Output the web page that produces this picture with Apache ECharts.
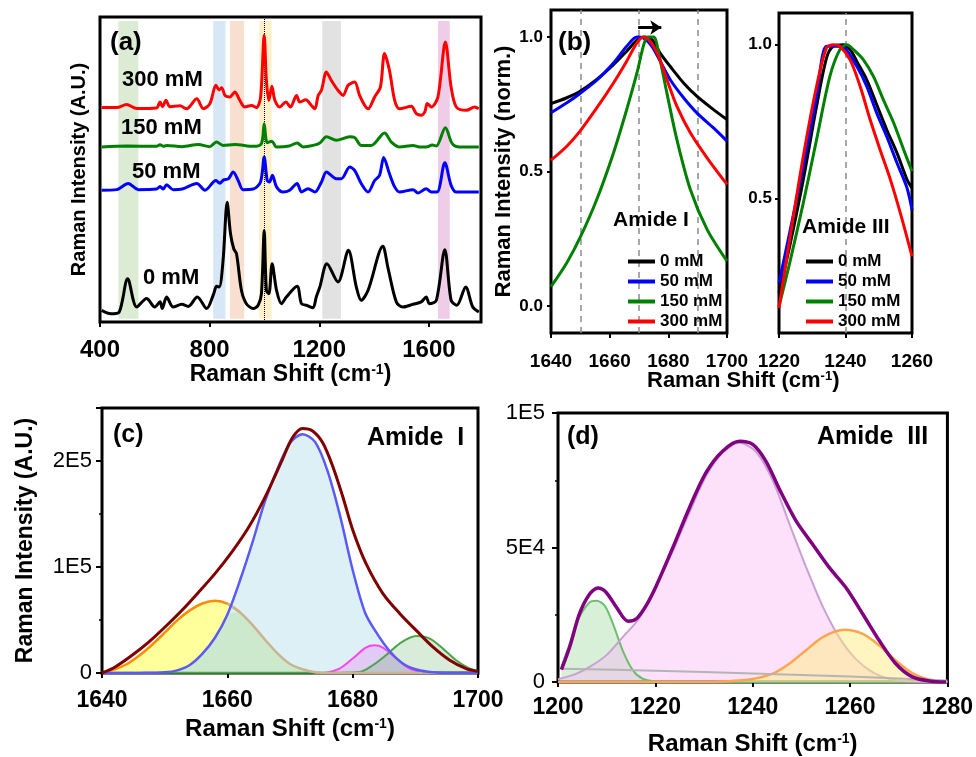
<!DOCTYPE html>
<html lang="en">
<head>
<meta charset="UTF-8">
<title>Raman</title>
<script src="https://cdn.jsdelivr.net/npm/echarts@6/dist/echarts.min.js"></script>
<style>
    html, body { margin: 0; padding: 0; background: #fff; }
</style>
</head>
<body>

<div id="chart" style="width: 976px;height: 757px"></div>

<script>
    // ---------- (a) full spectra, stacked with offsets (arbitrary units) ----------
    var spec0 = [[406,3.8],[440,2.7],[470,3.3],[501,14.2],[534,4.9],[570,7.7],[600,4.9],[619,6.6],[627,4.4],[643,8.2],
        [667,4.9],[698,5.8],[722,5.1],[755,8.2],[789,4.4],[815,9.3],[825,11.7],[835,11.5],[849,20.2],[864,39.3],[876,29],
        [888,24],[898,22.4],[916,10.4],[934,6],[959,4.4],[977,5.5],[989,9.3],[999,30],[1007,10.4],[1016,9.3],[1028,19.1],
        [1044,10.4],[1062,6],[1080,8.2],[1119,11.7],[1135,6],[1153,5.5],[1177,4.7],[1189,8.2],[1202,11.5],[1228,19.1],
        [1268,13.1],[1306,23.5],[1335,11.5],[1353,7.1],[1378,10.4],[1432,24.8],[1450,18],[1481,6.6],[1505,4.9],[1542,5.8],
        [1572,6.6],[1590,8.2],[1602,6],[1627,7.1],[1658,23.7],[1681,7.1],[1702,5.5],[1734,11.5],[1760,4.9],[1782,3.3]];
    var spec50 = [[406,43.2],[461,43.4],[503,45.4],[540,43.4],[606,43.6],[619,44.4],[631,43.6],[643,45],[667,43.4],[700,43.6],
        [753,45.4],[783,43.2],[823,46.4],[837,45.5],[851,46.6],[868,46.9],[886,49.2],[904,46.4],[922,43.4],[959,43.6],[986,46],
        [999,54.1],[1010,46.4],[1018,45.9],[1029,48.1],[1044,44.3],[1068,42.6],[1092,43.2],[1119,45.4],[1135,42.6],[1159,43.7],
        [1184,42.6],[1208,45.9],[1226,49.2],[1262,47],[1281,47],[1311,50.8],[1329,49.7],[1353,45.4],[1378,42.6],[1402,46.4],
        [1420,48.1],[1435,53.9],[1456,48.6],[1475,44.3],[1493,42.6],[1542,43.4],[1560,42.3],[1590,43.7],[1609,42.6],[1630,42.6],
        [1658,52.2],[1681,44.8],[1700,42.6],[1782,42.6]];
    var spec150 = [[406,57.4],[497,57.7],[606,57.6],[619,58.1],[632,57.6],[643,57.9],[700,57.5],[759,58.2],[800,57.5],[825,59],
        [849,57.9],[892,58.2],[960,57.6],[989,58.5],[999,65],[1010,58.8],[1027,59.3],[1044,57.4],[1090,57.7],[1119,58.7],
        [1141,57.4],[1177,57.9],[1202,58.7],[1226,60.7],[1262,59.6],[1311,60.7],[1329,60.5],[1353,57.9],[1390,57.9],[1438,62],
        [1463,59],[1493,57.4],[1542,57.9],[1565,57.4],[1590,57.4],[1612,58],[1627,57.7],[1660,63.7],[1685,58.5],[1712,57.4],[1782,57.4]];
    var spec300 = [[406,70.3],[461,70.3],[497,71.3],[534,70],[606,70.2],[619,72.1],[628,70.6],[641,72.7],[655,70.6],[692,70.9],
        [716,69.9],[753,73.2],[777,69.9],[801,71.6],[823,77.6],[834,76.1],[844,76.8],[856,74.3],[874,73.8],[892,75.4],[910,72.7],
        [928,70.5],[953,71],[971,70.3],[986,73.8],[999,94],[1007,79.2],[1016,72.7],[1027,77.3],[1038,72.7],[1056,70.5],[1078,72.1],
        [1095,70.5],[1117,74.3],[1129,72.1],[1151,72.9],[1171,71],[1184,69.9],[1196,74.3],[1208,76],[1226,82],[1244,79.2],
        [1268,76],[1287,74.3],[1305,77.6],[1329,78.7],[1347,74.3],[1366,71],[1378,69.9],[1402,73.8],[1423,77],[1438,88],
        [1456,82.5],[1475,72.7],[1493,69.9],[1536,70.7],[1554,68.3],[1572,67.8],[1585,68.9],[1594,71.6],[1609,70.5],[1633,73.8],
        [1660,91.8],[1681,77],[1700,70.5],[1737,69.4],[1767,70.5],[1782,69.9]];
    var bands = [[467,540],[813,858],[874,926],[981,1026],[1211,1279],[1633,1676]];
    var bandColors = ['#dcebd4','#d8e7f5','#f9dfd0','#fdf0c8','#e2e2e2','#efcde8'];
    var markerLineA = 999;
    var ticksA = [400, 800, 1200, 1600];

    // ---------- (b) normalised Amide I / Amide III ----------
    var amI0 = [[1640,0.752],[1645.4,0.774],[1649.9,0.798],[1655.6,0.842],[1661.3,0.897],[1665.8,0.947],[1669.3,0.988],
        [1671.8,1.0],[1674.4,0.99],[1677.2,0.94],[1680.6,0.891],[1685.2,0.829],[1689.7,0.78],[1695.4,0.73],[1700,0.693]];
    var amI50 = [[1640,0.718],[1645.4,0.755],[1649.9,0.79],[1655.6,0.839],[1661.3,0.903],[1665.8,0.965],[1669.3,1.0],
        [1671.5,0.996],[1674.4,0.965],[1677.2,0.91],[1680.6,0.842],[1685.2,0.774],[1689.7,0.718],[1695.4,0.662],[1700,0.613]];
    var amI150 = [[1640,0.072],[1645.4,0.161],[1649.9,0.254],[1655.6,0.396],[1661.3,0.569],[1665.8,0.73],[1669.3,0.866],
        [1671.8,0.978],[1673.2,1.0],[1675,1.0],[1676.7,0.94],[1679.5,0.792],[1682.9,0.619],[1687.5,0.433],[1693.2,0.285],[1700,0.167]];
    var amI300 = [[1640,0.542],[1645.4,0.594],[1649.9,0.65],[1655.6,0.736],[1661.3,0.829],[1665.8,0.91],[1669.3,0.978],
        [1671.5,1.0],[1673.8,0.984],[1676.7,0.928],[1679.5,0.842],[1682.9,0.743],[1687.5,0.644],[1693.2,0.551],[1700,0.452]];
    var amIII0 = [[1220,0.194],[1223.2,0.345],[1227.3,0.562],[1231.3,0.8],[1234.3,0.957],[1236.3,0.995],[1239.3,1.0],
        [1241.4,0.984],[1243.4,0.946],[1246.4,0.886],[1249.4,0.805],[1252.4,0.724],[1255.5,0.648],[1258.5,0.562],[1260,0.535]];
    var amIII50 = [[1220,0.226],[1223.2,0.389],[1227.3,0.605],[1231.3,0.832],[1234.3,0.995],[1237.3,0.995],[1239.8,0.989],
        [1243.4,0.93],[1246.4,0.865],[1249.4,0.778],[1252.4,0.702],[1255.5,0.616],[1258.5,0.535],[1260,0.464]];
    var amIII150 = [[1220,0.15],[1223.2,0.291],[1227.3,0.486],[1231.3,0.692],[1235.3,0.897],[1238.3,0.984],[1240.4,1.0],
        [1242.4,0.984],[1245.4,0.951],[1248.4,0.897],[1251.4,0.821],[1254.5,0.746],[1257.5,0.659],[1260,0.589]];
    var amIII300 = [[1220,0.145],[1223.2,0.367],[1227.3,0.637],[1231.3,0.865],[1234.3,0.99],[1236.3,1.0],[1238.3,0.995],
        [1241.4,0.951],[1244.4,0.865],[1247.4,0.757],[1250.4,0.659],[1253.5,0.562],[1256.5,0.453],[1260,0.313]];
    var concNames = ['0 mM', '50 mM', '150 mM', '300 mM'];
    var refLinesI = [1650, 1670, 1690];
    var refLinesIII = [1240];

    // ---------- (c) Amide I peak fit (intensity in thousands) ----------
    var cFit = [[1640,0],[1642.1,5.7],[1644.8,16.7],[1647.5,29.4],[1650.1,43.6],[1652.8,59.4],[1655.5,76.8],[1658.1,94.2],
        [1660.8,114.7],[1663.5,138.4],[1666.1,166.8],[1668.8,201.6],[1670.4,222],[1672,230.6],[1673.6,228.4],[1675.2,217.4],
        [1676.8,195.3],[1678.4,166.8],[1680,135.2],[1682.1,103.6],[1684.8,75.2],[1687.5,56.2],[1690.1,40.4],[1692.8,24.6],
        [1695.5,12],[1698.1,4.1],[1700,1.5]];
    var cX = [1640,1642,1644,1646,1648,1650,1652,1654,1656,1658,1660,1662,1664,1666,1668,1670,
        1672,1674,1676,1678,1680,1682,1684,1686,1688,1690,1692,1694,1696,1698,1700];
    var cPeak1658 = [0.3,3.5,8.5,16.7,26.7,38,49.7,59.1,65.6,68.2,65.5,57.3,45.4,31.5,18.6,8.5,
        3.5,0.7,0,0,0,0,0,0,0,0,0,0,0,0,0];
    var cPeak1672 = [0,0,0,0.1,0.3,0.6,2.5,7.5,18,33,55,87,123,162,192.5,217,
        225.3,218,190.5,148,97.3,56.6,36.2,20,8.9,3.5,1.2,0.3,0,0,0];
    var cPeak1684 = [[1674,0],[1675.7,0.3],[1677.9,4.1],[1680,13.6],[1682.1,24],[1683.5,26.2],[1684.8,24],[1687,13.6],
        [1689.1,4.1],[1691.2,0.6],[1693,0]];
    var cPeak1690 = [[1640,0.3],[1678,0.3],[1681.1,0.9],[1683.2,7.3],[1685.3,16.7],[1687.5,27.8],[1690.1,34.8],[1692.3,32.5],
        [1694.4,23],[1696.5,12],[1698.7,4.1],[1700,2]];

    // ---------- (d) Amide III peak fit (intensity in thousands) ----------
    var dFit = [[1200.7,4.6],[1202.4,13],[1204.4,25.3],[1206.5,32.7],[1208.2,34.9],[1209.9,33.3],[1212,27.8],[1214.4,22.6],
        [1216.1,23.5],[1218.1,28.4],[1220.2,35.8],[1223.6,50],[1227,64.8],[1230.4,77.8],[1233.8,85.8],[1237.3,89.5],[1240,88.3],
        [1242.7,82.1],[1245.5,71.6],[1248.9,59.9],[1252.3,51.2],[1255.7,42.6],[1259.1,35.2],[1262.6,25.3],[1266,15.4],
        [1269.4,6.8],[1272.8,1.9],[1276.2,0.4],[1279.7,0]];
    var dPeak1208 = [[1200.7,5.6],[1202.4,14.2],[1204.4,24.1],[1206.5,29.6],[1207.9,30.2],[1209.6,28.4],[1211.3,21.6],
        [1213.3,11.7],[1215.4,4.3],[1217.4,1.2],[1220.2,0.2],[1230,0],[1280,0]];
    var dPeak1237 = [[1200,1],[1203.8,3.1],[1206.5,5.6],[1209.9,9.9],[1213.3,16.7],[1216.8,24],[1220.2,35.8],[1223.6,48.8],
        [1227,63],[1230.4,76.5],[1233.8,85.2],[1237.3,88.9],[1240.7,85.5],[1244.1,75],[1247.5,59],[1250.9,43],[1254.4,28],
        [1257.8,16.5],[1261.2,8.5],[1264.6,3.7],[1268,1.2],[1272.1,0.3],[1280,0]];
    var dPeak1259 = [[1200,0],[1230,0],[1233.8,0.2],[1239.3,0.9],[1244.1,3.1],[1247.5,6.8],[1250.9,11.7],[1254.4,16.7],
        [1258.8,19.4],[1262.6,17.9],[1266,13.6],[1269.4,8],[1272.8,3.3],[1276.2,0.9],[1279.7,0]];
    var dBaseline = [[1200.7,4.9],[1220,4.2],[1240,3.2],[1260,2],[1280,0.6]];

    var FONT = 'Arial, "Liberation Sans", sans-serif';
    var supRich = function (size) {
        return { s: { fontSize: size, fontWeight: 'bold', fontFamily: FONT, color: '#000', verticalAlign: 'top' } };
    };
    var sci = function (vk) {
        var v = vk * 1000;
        if (!v) return '0';
        var e = Math.floor(Math.log10(v) + 1e-9);
        return Math.round(v / Math.pow(10, e)) + 'E' + e;
    };
    var plain = function (v) { return String(v); };

    function box(l, t, w, h) {
        return { left: l, top: t, width: w, height: h, show: true, borderColor: '#000', borderWidth: 3 };
    }
    function xAx(g, min, max, opt) {
        var a = {
            gridIndex: g, type: 'value', min: min, max: max, interval: opt.interval,
            axisLine: { show: false, onZero: false }, splitLine: { show: false },
            axisTick: { show: true, length: 5, lineStyle: { color: '#000', width: 2 } },
            axisLabel: { fontSize: opt.fs, fontWeight: 'bold', color: '#000', fontFamily: FONT, margin: opt.margin,
                formatter: plain }
        };
        if (opt.custom) { a.axisLabel.customValues = opt.custom; a.axisTick.customValues = opt.custom; }
        if (opt.name) {
            a.name = 'Raman Shift (cm{s|-1})';
            a.nameLocation = 'middle';
            a.nameGap = opt.nameGap;
            a.nameTextStyle = { fontSize: opt.nameSize, fontWeight: 'bold', color: '#000', fontFamily: FONT, rich: supRich(Math.round(opt.nameSize * 0.6)) };
        }
        return a;
    }

    function ln(name, data, color, idx, width, z) {
        return { type: 'line', name: name, data: data, xAxisIndex: idx, yAxisIndex: idx, symbol: 'none', showSymbol: false,
            smooth: 0.3, lineStyle: { color: color, width: width }, itemStyle: { color: color }, z: z || 5, animation: false };
    }
    function area(data, lineColor, fill, idx, width, z) {
        var s = ln('', data, lineColor, idx, width, z);
        s.areaStyle = { color: fill, opacity: 1 };
        if (!width) s.lineStyle.width = 0;
        return s;
    }

    var colors = ['#000000', '#0000ff', '#008000', '#ff0000'];

    var series = [];
    // (a): shaded bands and the dotted guide sit on their own low-z series
    series.push({
        type: 'line', data: [], xAxisIndex: 0, yAxisIndex: 0, z: 1, silent: true, animation: false,
        markArea: { silent: true, z: 1,
            data: bands.map(function (b, i) { return [{ xAxis: b[0], yAxis: 1.1, itemStyle: { color: bandColors[i] } }, { xAxis: b[1], yAxis: 98.7 }]; }) },
        markLine: { silent: true, symbol: ['none', 'none'], z: 2, label: { show: false },
            lineStyle: { color: '#000', type: 'dotted', width: 1 }, data: [{ xAxis: markerLineA }] }
    });
    series.push(ln(concNames[0], spec0, colors[0], 0, 3));
    series.push(ln(concNames[1], spec50, colors[1], 0, 3));
    series.push(ln(concNames[2], spec150, colors[2], 0, 3));
    series.push(ln(concNames[3], spec300, colors[3], 0, 3));

    // (b) left
    var bI = [amI0, amI50, amI150, amI300];
    series.push({
        type: 'line', data: [], xAxisIndex: 1, yAxisIndex: 1, z: 1, silent: true, animation: false,
        markLine: { silent: true, symbol: ['none', 'none'], z: 1, label: { show: false },
            lineStyle: { color: '#8c8c8c', type: [6, 5], width: 1.5 },
            data: refLinesI.map(function (v) { return { xAxis: v }; }) }
    });
    bI.forEach(function (d, i) {
        var s = ln(concNames[i], d, colors[i], 1, 3);
        if (i === 3) {
            s.markLine = { silent: true, label: { show: false }, symbol: ['none', 'arrow'], symbolSize: 11,
                lineStyle: { color: '#000', type: 'solid', width: 3 },
                data: [[{ coord: [1669.7, 1.035] }, { coord: [1677.6, 1.035] }]] };
        }
        series.push(s);
    });
    // (b) right
    var bIII = [amIII0, amIII50, amIII150, amIII300];
    series.push({
        type: 'line', data: [], xAxisIndex: 2, yAxisIndex: 2, z: 1, silent: true, animation: false,
        markLine: { silent: true, symbol: ['none', 'none'], z: 1, label: { show: false },
            lineStyle: { color: '#8c8c8c', type: [6, 5], width: 1.5 },
            data: refLinesIII.map(function (v) { return { xAxis: v }; }) }
    });
    bIII.forEach(function (d, i) {
        series.push(ln(concNames[i], d, colors[i], 2, 3));
    });

    // (c)
    var c1658 = cX.map(function (x, i) { return [x, cPeak1658[i]]; });
    var c1672 = cX.map(function (x, i) { return [x, cPeak1672[i]]; });
    var cOverlap = cX.map(function (x, i) { return [x, Math.min(cPeak1658[i], cPeak1672[i])]; });
    series.push(area(c1658, '#ff8c00', '#ffff9c', 3, 0, 2));
    series.push(area(c1672, '#5a5af5', '#dcf0f6', 3, 0, 2));
    series.push(area(cOverlap, '#cde9cd', '#cde9cd', 3, 0, 2));
    series.push(area(cPeak1684, '#ff44ee', 'rgba(240,120,240,0.3)', 3, 2, 3));
    series.push(area(cPeak1690, '#4aa64a', 'rgba(80,170,80,0.22)', 3, 2, 3));
    // the 1658 component outline: orange in the open, muted where it runs under the 1672 band
    series.push(ln('', c1658.filter(function (p) { return p[0] <= 1662; }), '#ff8c00', 3, 2.5, 4));
    series.push(ln('', c1658.filter(function (p) { return p[0] >= 1660; }), '#c9b48e', 3, 2.5, 4));
    series.push(ln('', c1672, '#5a5af5', 3, 2.5, 4));
    series.push(ln('', cFit, '#800000', 3, 3, 6));

    // (d)
    series.push(area(dPeak1208, '#6cbf6c', 'rgba(100,190,100,0.25)', 4, 2, 2));
    series.push(area(dPeak1237, '#c9a0d4', 'rgba(250,180,245,0.4)', 4, 2, 2));
    series.push(area(dPeak1259, '#ffa64d', 'rgba(255,235,130,0.5)', 4, 2.5, 3));
    series.push(ln('', dBaseline, '#b4b4b4', 4, 2, 3));
    series.push(ln('', dFit, '#800080', 4, 3.5, 6));

    var legendBase = {
        orient: 'vertical', icon: 'rect', itemWidth: 27, itemHeight: 4, itemGap: 3,
        data: concNames, selectedMode: false,
        textStyle: { fontSize: 17, fontWeight: 'bold', color: '#000', fontFamily: FONT, lineHeight: 17 }
    };

    var bigText = function (txt, x, y, size) {
        return { type: 'text', x: x, y: y, z: 100, silent: true,
            style: { text: txt, fontSize: size, fontWeight: 'bold', fontFamily: FONT, fill: '#000', verticalAlign: 'middle' } };
    };

    var option = {
        animation: false,
        backgroundColor: '#fff',
        grid: [box(100, 17, 381, 305), box(551, 10, 176, 323), box(779, 13, 133, 320), box(102, 408, 376, 265), box(558, 413, 390, 272)],
        xAxis: [
            xAx(0, 400, 1790, { custom: ticksA, fs: 24, margin: 16, name: true, nameGap: 39, nameSize: 23 }),
            xAx(1, 1640, 1700, { interval: 20, fs: 19, margin: 19 }),
            xAx(2, 1220, 1260, { interval: 20, fs: 19, margin: 19 }),
            xAx(3, 1640, 1700, { interval: 20, fs: 23, margin: 16, name: true, nameGap: 44, nameSize: 24 }),
            xAx(4, 1200, 1280, { interval: 20, fs: 23, margin: 14, name: true, nameGap: 50, nameSize: 24 })
        ],
        yAxis: [
            { gridIndex: 0, type: 'value', min: 0, max: 100, axisLine: { show: false, onZero: false }, axisTick: { show: false },
                axisLabel: { show: false }, splitLine: { show: false },
                name: 'Raman Intensity (A.U.)', nameLocation: 'middle', nameGap: 11,
                nameTextStyle: { fontSize: 20, fontWeight: 'bold', color: '#000', fontFamily: FONT } },
            { gridIndex: 1, type: 'value', min: -0.1, max: 1.1, axisLine: { show: false, onZero: false }, splitLine: { show: false },
                axisTick: { show: true, length: 4, customValues: [0, 0.5, 1], lineStyle: { color: '#000', width: 2 } },
                axisLabel: { customValues: [0, 0.5, 1], fontSize: 17, fontWeight: 'bold', color: '#000', fontFamily: FONT, margin: 8,
                    formatter: function (v) { return v.toFixed(1); } },
                name: 'Raman Intensity (norm.)', nameLocation: 'middle', nameGap: 36,
                nameTextStyle: { fontSize: 22, fontWeight: 'bold', color: '#000', fontFamily: FONT } },
            { gridIndex: 2, type: 'value', min: 0.064, max: 1.103, axisLine: { show: false, onZero: false }, splitLine: { show: false },
                axisTick: { show: true, length: 4, customValues: [0.5, 1], lineStyle: { color: '#000', width: 2 } },
                axisLabel: { customValues: [0.5, 1], fontSize: 17, fontWeight: 'bold', color: '#000', fontFamily: FONT, margin: 7,
                    formatter: function (v) { return v.toFixed(1); } } },
            { gridIndex: 3, type: 'value', min: 0, max: 250, interval: 100, axisLine: { show: false, onZero: false }, splitLine: { show: false },
                axisTick: { show: true, length: 6, lineStyle: { color: '#000', width: 2 } },
                minorTick: { show: true, splitNumber: 2, length: 3, lineStyle: { color: '#000', width: 1.5 } },
                axisLabel: { fontSize: 22, color: '#000', fontFamily: FONT, margin: 10, showMaxLabel: false, formatter: sci },
                name: 'Raman Intensity (A.U.)', nameLocation: 'middle', nameGap: 65,
                nameTextStyle: { fontSize: 23, fontWeight: 'bold', color: '#000', fontFamily: FONT } },
            { gridIndex: 4, type: 'value', min: 0, max: 100, interval: 50, axisLine: { show: false, onZero: false }, splitLine: { show: false },
                axisTick: { show: true, length: 6, lineStyle: { color: '#000', width: 2 } },
                minorTick: { show: true, splitNumber: 2, length: 3, lineStyle: { color: '#000', width: 1.5 } },
                axisLabel: { fontSize: 22, color: '#000', fontFamily: FONT, margin: 13, formatter: sci } }
        ],
        legend: [
            Object.assign({}, legendBase, { left: 623, top: 248 }),
            Object.assign({}, legendBase, { left: 801, top: 248 })
        ],
        graphic: [
            bigText('(a)', 110, 43, 26),
            bigText('300 mM', 122, 80, 22),
            bigText('150 mM', 121, 128, 22),
            bigText('50 mM', 132, 172, 22),
            bigText('0 mM', 143, 278, 22),
            bigText('(b)', 558, 43, 26),
            bigText('Amide I', 613, 220, 21),
            bigText('Amide III', 802, 227, 21),
            bigText('(c)', 113, 435, 25),
            bigText('Amide  I', 367, 438, 25),
            bigText('(d)', 567, 437, 25),
            bigText('Amide  III', 817, 437, 25),
            { type: 'text', x: 647, y: 370, z: 100, silent: true,
                style: { text: 'Raman Shift (cm{s|-1})', fontSize: 22, fontWeight: 'bold', fontFamily: FONT, fill: '#000',
                    rich: { s: { fontSize: 13, fontWeight: 'bold', fontFamily: FONT, fill: '#000', verticalAlign: 'top' } } } }
        ],
        series: series
    };

    var myChart = echarts.init(document.getElementById('chart'));
    myChart.setOption(option);
</script>

</body>
</html>
